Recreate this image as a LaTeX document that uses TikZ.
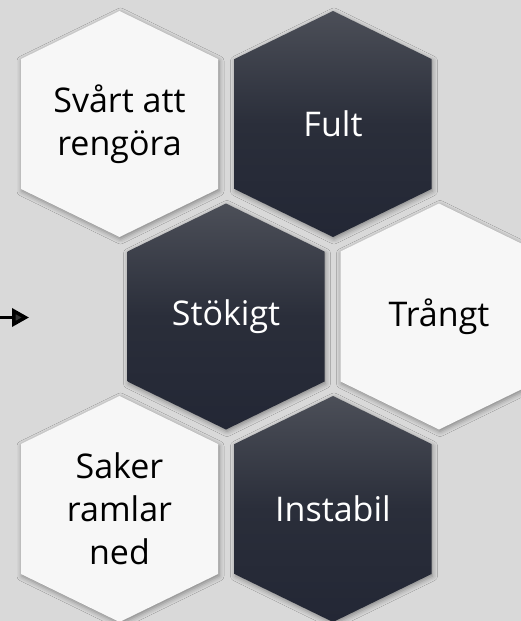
\documentclass[tikz,border=0pt]{standalone}
\usepackage{fontspec}
\setmainfont{Open Sans}
\usetikzlibrary{arrows.meta,shadows.blur}

\definecolor{bggray}{HTML}{D9D9D9}
\definecolor{hexwhite}{HTML}{F7F7F7}
\definecolor{hextop}{HTML}{4C4F58}
\definecolor{hexmid}{HTML}{2A2E3A}
\definecolor{hexbot}{HTML}{232735}

% hexagon round a named coordinate, pointed top and bottom
\newcommand{\hexcell}[2]{%
  \path[#1] (#2) +(0,-113) -- +(98.5,-65) -- +(98.5,65) -- +(0,113)
    -- +(-98.5,65) -- +(-98.5,-65) -- cycle;}

\begin{document}
\begin{tikzpicture}[x=1pt,y=-1pt,
    hexshadow/.style={blur shadow={shadow xshift=1pt,shadow yshift=-2pt,
        shadow blur radius=5pt,shadow opacity=40}},
    hexlight/.style={fill=hexwhite,hexshadow},
    hexdark/.style={top color=hextop,bottom color=hexbot,middle color=hexmid,hexshadow},
    lbllight/.style={align=center,inner sep=0pt,text=black,
        font=\fontsize{34}{43}\selectfont},
    lbldark/.style={lbllight,text=white}]

    \useasboundingbox (0,0) rectangle (521,621);
    \clip (0,0) rectangle (521,621);
    \fill[bggray] (0,0) rectangle (521,621);

    \coordinate (svart) at (119.5,124);
    \coordinate (fult) at (333,124);
    \coordinate (stokigt) at (226,316.5);
    \coordinate (trangt) at (439,316.5);
    \coordinate (saker) at (119.5,509);
    \coordinate (instabil) at (333,509);

    \hexcell{hexlight}{svart}
    \hexcell{hexdark}{fult}
    \hexcell{hexdark}{stokigt}
    \hexcell{hexlight}{trangt}
    \hexcell{hexlight}{saker}
    \hexcell{hexdark}{instabil}

    \node[lbllight] (svarttext) at (svart) {Svårt att\\rengöra};
    \node[lbldark] (fulttext) at (fult) {Fult};
    \node[lbldark] (stokigttext) at (stokigt) {Stökigt};
    \node[lbllight] (trangttext) at (trangt) {Trångt};
    \node[lbllight] (sakertext) at (saker) {Saker\\ramlar\\ned};
    \node[lbldark] (instabiltext) at (instabil) {Instabil};

    \coordinate (arrowstart) at (-2,317.5);
    \coordinate (arrowend) at (29,317.5);
    \draw[line width=3.5pt,-{Triangle[length=17pt,width=18pt]}] (arrowstart) -- (arrowend);
\end{tikzpicture}
\end{document}
